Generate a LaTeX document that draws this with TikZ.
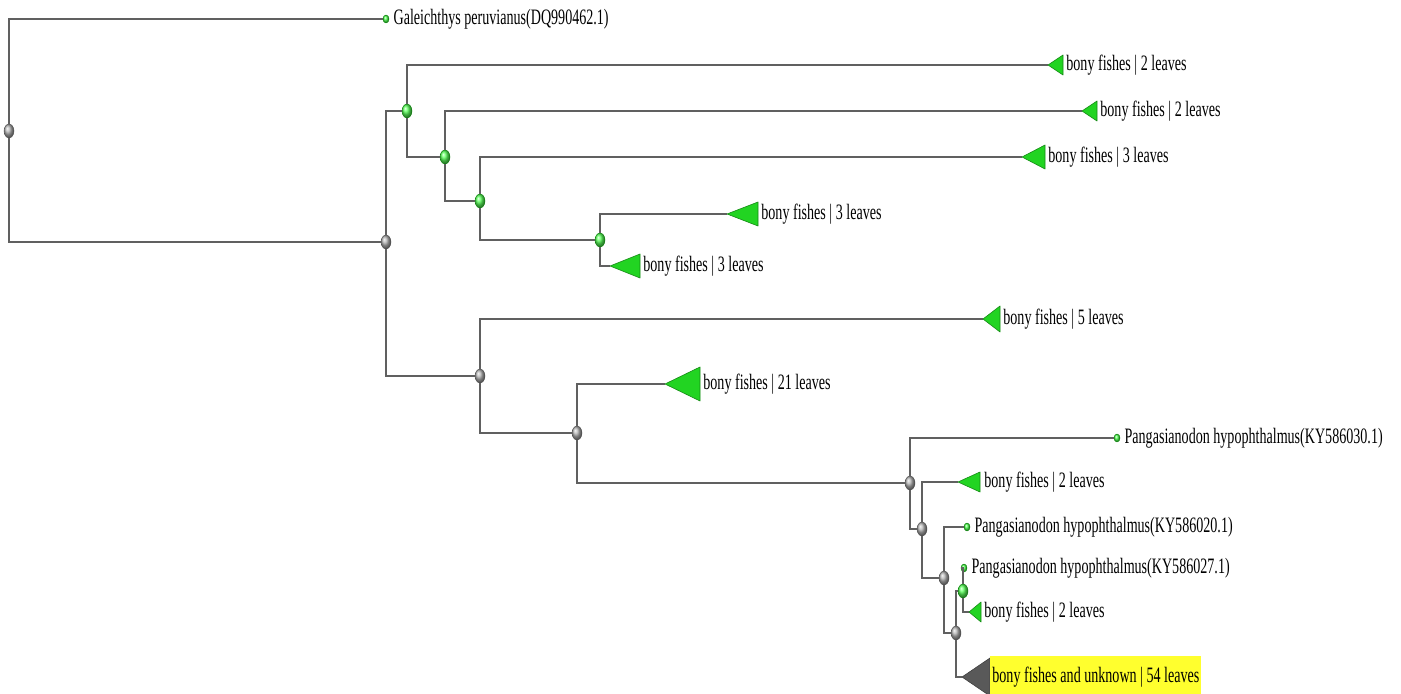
\documentclass[tikz,border=0pt]{standalone}
\usepackage{fontspec}
\setmainfont{Liberation Serif}[FakeStretch=0.64]
\usetikzlibrary{shapes.geometric,positioning}
\definecolor{branchgray}{HTML}{606060}
\definecolor{cladegreen}{HTML}{22D422}
\definecolor{hiyellow}{HTML}{FFFF2E}
\tikzset{
  % one pixel of the tree is half a point, y runs down the page
  branch/.style = {line width=1pt, branchgray, line join=miter},
  inode/.style  = {ellipse, minimum width=5pt, minimum height=7pt,
                   inner sep=0pt, ball color=gray!60, draw=gray!60!black,
                   line width=0.2pt},
  gnode/.style  = {inode, ball color=green!65, draw=green!50!black},
  tipdot/.style = {ellipse, minimum width=3pt, minimum height=4pt,
                   inner sep=0pt, ball color=green!70, draw=green!50!black,
                   line width=0.2pt},
  clade/.style  = {fill=cladegreen, draw=cladegreen!65!black,
                   line width=0.3pt, line join=round},
  dclade/.style = {clade, fill=black!65, draw=black!75},
  taxon/.style  = {font=\fontsize{11}{13}\selectfont, inner sep=1pt},
}

\begin{document}
\begin{tikzpicture}[x=0.5pt, y=-0.5pt]
    \useasboundingbox (0,0) rectangle (1401,694);

    % inner nodes
    \node[inode] (R) at (9,131)   {};
    \node[inode] (E) at (386,242) {};
    \node[gnode] (A) at (407,111) {};
    \node[gnode] (B) at (445,157) {};
    \node[gnode] (C) at (480,201) {};
    \node[gnode] (D) at (600,240) {};
    \node[inode] (F) at (480,376) {};
    \node[inode] (G) at (577,433) {};
    \node[inode] (H) at (910,483) {};
    \node[inode] (I) at (922,529) {};
    \node[inode] (J) at (944,578) {};
    \node[inode] (K) at (956,633) {};
    \node[gnode] (L) at (963,591) {};

    % single sequences
    \node[tipdot] (gal)  at (386,19)   {};
    \node[tipdot] (kyA)  at (1117,438) {};
    \node[tipdot] (kyB)  at (967,527)  {};
    \node[tipdot] (kyC)  at (964,568)  {};

    % collapsed clades, apex on the branch
    \coordinate (c1)  at (1048,65);
    \coordinate (c2)  at (1082,111);
    \coordinate (c3)  at (1022,157);
    \coordinate (c4)  at (727,214);
    \coordinate (c5)  at (610,266);
    \coordinate (c6)  at (983,319);
    \coordinate (c7)  at (665,384);
    \coordinate (c8)  at (958,482);
    \coordinate (c9)  at (969,612);
    \coordinate (c10) at (962,677);

    \draw[branch] (R) |- (gal);
    \draw[branch] (R) |- (E);
    \draw[branch] (E) |- (A);
    \draw[branch] (E) |- (F);
    \draw[branch] (A) |- (c1);
    \draw[branch] (A) |- (B);
    \draw[branch] (B) |- (c2);
    \draw[branch] (B) |- (C);
    \draw[branch] (C) |- (c3);
    \draw[branch] (C) |- (D);
    \draw[branch] (D) |- (c4);
    \draw[branch] (D) |- (c5);
    \draw[branch] (F) |- (c6);
    \draw[branch] (F) |- (G);
    \draw[branch] (G) |- (c7);
    \draw[branch] (G) |- (H);
    \draw[branch] (H) |- (kyA);
    \draw[branch] (H) |- (I);
    \draw[branch] (I) |- (c8);
    \draw[branch] (I) |- (J);
    \draw[branch] (J) |- (kyB);
    \draw[branch] (J) |- (K);
    \draw[branch] (K) |- (L);
    \draw[branch] (K) |- (c10);
    \draw[branch] (L) |- (kyC);
    \draw[branch] (L) |- (c9);

    \fill[clade]  (c1)  -- ++(15,-10) -- ++(0,20) -- cycle;
    \fill[clade]  (c2)  -- ++(15,-10) -- ++(0,20) -- cycle;
    \fill[clade]  (c3)  -- ++(23,-12) -- ++(0,24) -- cycle;
    \fill[clade]  (c4)  -- ++(31,-12) -- ++(0,24) -- cycle;
    \fill[clade]  (c5)  -- ++(30,-12) -- ++(0,24) -- cycle;
    \fill[clade]  (c6)  -- ++(17,-13) -- ++(0,26) -- cycle;
    \fill[clade]  (c7)  -- ++(35,-17) -- ++(0,34) -- cycle;
    \fill[clade]  (c8)  -- ++(22,-10) -- ++(0,20) -- cycle;
    \fill[clade]  (c9)  -- ++(12,-10) -- ++(0,20) -- cycle;
    \fill[dclade] (c10) -- ++(28,-19) -- ++(0,38) -- cycle;

    \node[taxon, right=1pt of gal]   {Galeichthys peruvianus(DQ990462.1)};
    \node[taxon, right=8pt of c1]    {bony fishes | 2 leaves};
    \node[taxon, right=8pt of c2]    {bony fishes | 2 leaves};
    \node[taxon, right=12pt of c3]   {bony fishes | 3 leaves};
    \node[taxon, right=16pt of c4]   {bony fishes | 3 leaves};
    \node[taxon, right=15.5pt of c5] {bony fishes | 3 leaves};
    \node[taxon, right=9pt of c6]    {bony fishes | 5 leaves};
    \node[taxon, right=18pt of c7]   {bony fishes | 21 leaves};
    \node[taxon, right=1pt of kyA]   {Pangasianodon hypophthalmus(KY586030.1)};
    \node[taxon, right=12pt of c8]   {bony fishes | 2 leaves};
    \node[taxon, right=1pt of kyB]   {Pangasianodon hypophthalmus(KY586020.1)};
    \node[taxon, right=1pt of kyC]   {Pangasianodon hypophthalmus(KY586027.1)};
    \node[taxon, right=6.5pt of c9]  {bony fishes | 2 leaves};
    \node[taxon, right=14pt of c10, fill=hiyellow, minimum height=21pt]
        {bony fishes and unknown | 54 leaves};
\end{tikzpicture}
\end{document}
